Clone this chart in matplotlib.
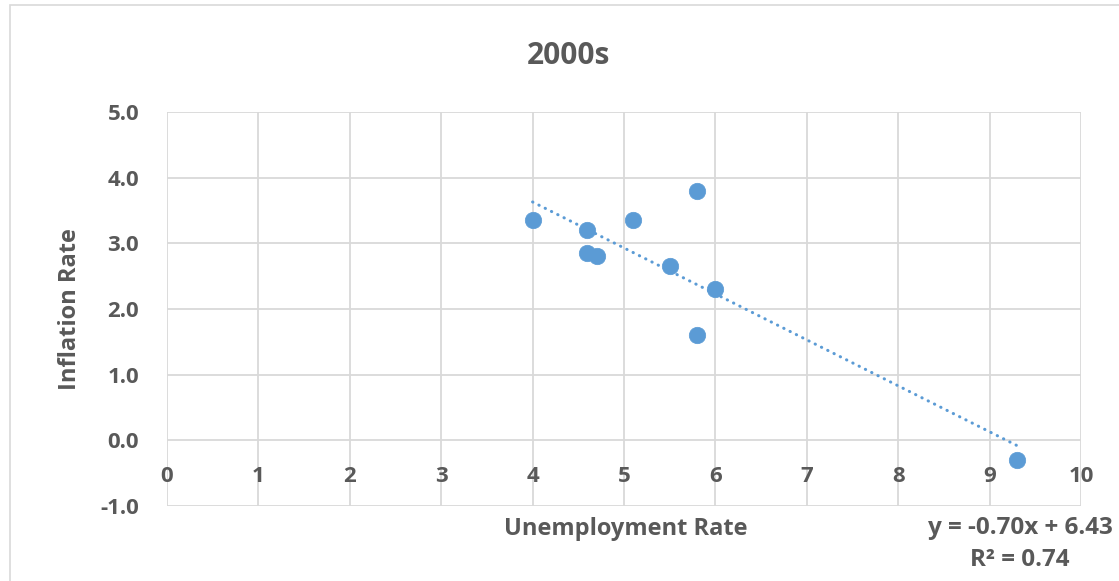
import matplotlib
matplotlib.use("Agg")
import matplotlib.pyplot as plt
from matplotlib.patches import Rectangle
import numpy as np

# Unemployment vs. inflation, 2000-2009
unemployment = [4.0, 4.6, 4.6, 4.7, 5.1, 5.5, 5.8, 6.0, 5.8, 9.3]
inflation = [3.35, 3.2, 2.85, 2.8, 3.35, 2.65, 3.8, 2.3, 1.6, -0.3]

# Linear trendline coefficients shown on the chart
slope = -0.70
intercept = 6.43
r_squared = 0.74

x_ticks = list(range(0, 11))
y_ticks = [-1.0, 0.0, 1.0, 2.0, 3.0, 4.0, 5.0]

TEXT = "#595959"
GRID = "#D9D9D9"
BLUE = "#5B9BD5"
FONT = ["Open Sans", "DejaVu Sans"]

plt.rcParams["font.family"] = FONT

fig = plt.figure(figsize=(11.19, 5.81), dpi=100)
fig.patch.set_facecolor("white")

# Chart-area border
fig.patches.append(Rectangle((10 / 1119, -0.1), 1.2, 1.1 - 5 / 581,
                             transform=fig.transFigure, fill=False,
                             edgecolor=GRID, linewidth=1.2))

ax = fig.add_axes([167 / 1119, 1 - 506 / 581, (1081 - 167) / 1119, (506 - 112) / 581])
ax.set_xlim(0, 10)
ax.set_ylim(-1, 5)

ax.set_xticks(x_ticks)
ax.set_yticks(y_ticks)
ax.grid(True, color=GRID, linewidth=1.3)
ax.set_axisbelow(True)
for side in ["top", "right", "bottom", "left"]:
    ax.spines[side].set_visible(False)
ax.tick_params(length=0)

# y tick labels
ax.set_yticklabels([f"{v:.1f}" for v in y_ticks], fontsize=16,
                   fontweight="bold", color=TEXT)
ax.tick_params(axis="y", pad=20)

# x tick labels sit just below the zero line
ax.set_xticklabels([])
for t in x_ticks:
    ax.text(t, -0.55, str(t), ha="center", va="center", fontsize=16,
            fontweight="bold", color=TEXT)

# Data points
ax.scatter(unemployment, inflation, s=140, color=BLUE, edgecolors=BLUE,
           linewidths=0.5, zorder=3)

# Dotted trendline across the data range
xs = np.array([min(unemployment), max(unemployment)])
ax.plot(xs, slope * xs + intercept, color=BLUE, linewidth=2.2,
        linestyle=(0, (0.1, 2.2)), dash_capstyle="round", zorder=2)

fig.text(569 / 1119, 1 - 56 / 581, "2000s", ha="center", va="center",
         fontsize=21.5, fontweight="bold", color=TEXT)
fig.text(70 / 1119, 1 - 309 / 581, "Inflation Rate", ha="center", va="center",
         rotation=90, fontsize=17, fontweight="bold", color=TEXT)
fig.text(626 / 1119, 1 - 529 / 581, "Unemployment Rate", ha="center",
         va="center", fontsize=17, fontweight="bold", color=TEXT)

fig.text(1020 / 1119, 1 - 528 / 581,
         f"y = {slope:.2f}x + {intercept:.2f}", ha="center", va="center",
         fontsize=17.5, fontweight="bold", color=TEXT)
fig.text(1020 / 1119, 1 - 560 / 581, f"R² = {r_squared:.2f}", ha="center",
         va="center", fontsize=17.5, fontweight="bold", color=TEXT)

fig.savefig("out.png", dpi=100, facecolor="white")
